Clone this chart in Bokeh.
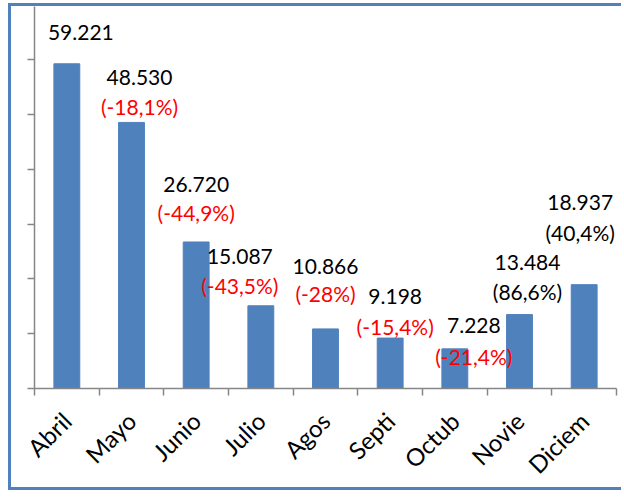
import math
from bokeh.plotting import figure
from bokeh.models import ColumnDataSource, FixedTicker, Range1d
from bokeh.core.properties import value
from bokeh.embed import file_html
from bokeh.resources import INLINE

# ---- data ----
months = ["Abril", "Mayo", "Junio", "Julio", "Agos", "Septi", "Octub", "Novie", "Diciem"]
values = [59221, 48530, 26720, 15087, 10866, 9198, 7228, 13484, 18937]
changes = ["", "-18,1%", "-44,9%", "-43,5%", "-28%", "-15,4%", "-21,4%", "86,6%", "40,4%"]
y_ticks = [0, 10000, 20000, 30000, 40000, 50000, 60000]

# ---- label placement (pixels) ----
label_dx = [14, 8, 0, -21, 0, 5, 19, 8, -4]
value_up = [31, 45, 57, 49, 62, 42, 23, 52, 82]
pct_up = [0, 16, 29, 20, 35, 12, -8, 23, 52]

FONT = "Lato"
BLUE = "#4F81BD"
GRAY = "#868686"

idx = list(range(len(months)))

p = figure(width=613, height=487, output_backend="svg", toolbar_location=None,
           x_range=Range1d(-0.5, len(months) - 0.5), y_range=Range1d(0, 69670),
           min_border_left=23, min_border_right=8, min_border_top=0, min_border_bottom=105)
p.styles = {"margin-left": "8px", "margin-top": "3px",
            "border-left": "3px solid " + BLUE, "border-top": "3px solid " + BLUE,
            "border-bottom": "3px solid " + BLUE}
p.outline_line_color = None
p.xgrid.visible = False
p.ygrid.visible = False

src = ColumnDataSource(dict(x=idx, top=values))
p.vbar(x="x", top="top", width=0.4, source=src, fill_color=BLUE, line_color=BLUE)

# value labels
vsrc = ColumnDataSource(dict(
    x=idx, y=values,
    txt=[f"{v:,}".replace(",", ".") for v in values],
    dx=label_dx, dy=[-u for u in value_up]))
p.text(x="x", y="y", text="txt", x_offset="dx", y_offset="dy", source=vsrc,
       text_font=value(FONT), text_font_size=value("21px"), text_color="black",
       text_align="center", text_baseline="middle")

# percentage labels
pi_ = [i for i in idx if changes[i]]
psrc = ColumnDataSource(dict(
    x=pi_, y=[values[i] for i in pi_],
    txt=["(" + changes[i] + ")" for i in pi_],
    col=["#FF0000" if changes[i].startswith("-") else "black" for i in pi_],
    dx=[label_dx[i] for i in pi_], dy=[-pct_up[i] for i in pi_]))
p.text(x="x", y="y", text="txt", x_offset="dx", y_offset="dy", source=psrc,
       text_font=value(FONT), text_font_size=value("21px"), text_color="col",
       text_align="center", text_baseline="middle")

# x axis
xa = p.xaxis[0]
xa.ticker = FixedTicker(ticks=idx, minor_ticks=[i - 0.5 for i in range(len(months) + 1)])
xa.major_label_overrides = {i: m for i, m in zip(idx, months)}
xa.major_label_orientation = math.pi / 4
xa.major_label_text_font = FONT
xa.major_label_text_font_size = "24px"
xa.major_label_text_color = "black"
xa.major_label_standoff = 21
xa.major_tick_out = 0
xa.major_tick_in = 0
xa.minor_tick_out = 7
xa.minor_tick_in = 0
xa.minor_tick_line_color = GRAY
xa.minor_tick_line_width = 1.5
xa.axis_line_color = GRAY
xa.axis_line_width = 1.5

# y axis (ticks only, no labels)
ya = p.yaxis[0]
ya.ticker = FixedTicker(ticks=y_ticks)
ya.major_label_overrides = {t: "" for t in y_ticks}
ya.major_label_standoff = 0
ya.major_tick_out = 7
ya.major_tick_in = 0
ya.minor_tick_out = 0
ya.minor_tick_in = 0
ya.major_tick_line_color = GRAY
ya.major_tick_line_width = 1.5
ya.axis_line_color = GRAY
ya.axis_line_width = 1.5

open("out.html", "w").write(file_html(p, INLINE))
